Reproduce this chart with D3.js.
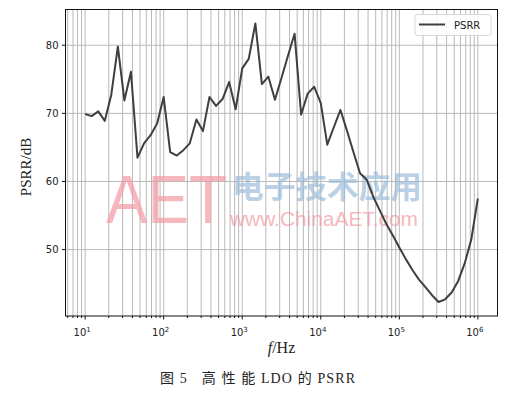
<!DOCTYPE html>
<html lang="zh">
<head>
    <meta charset="UTF-8">
    <title>高性能 LDO 的 PSRR</title>
    <script src="https://d3js.org/d3.v7.min.js"></script>
    <style>
        body {
            margin: 0;
            background: #fff;
        }
        svg text {
            fill: #222;
        }
    </style>
</head>
<body>
    <div id="chart"></div>

    <script>
        // frequency points (Hz), 12 per decade
        const freq = [10, 12.1, 14.7, 17.8, 21.5, 26.1, 31.6, 38.3, 46.4, 56.2, 68.1, 82.5,
            100, 121, 147, 178, 215, 261, 316, 383, 464, 562, 681, 825,
            1000, 1210, 1470, 1780, 2150, 2610, 3160, 3830, 4640, 5620, 6810, 8250,
            10000, 12100, 14700, 17800, 21500, 26100, 31600, 38300, 46400, 56200, 68100, 82500,
            100000, 121000, 147000, 178000, 215000, 261000, 316000, 383000, 464000, 562000, 681000, 825000,
            1000000];
        // PSRR (dB)
        const psrr = [69.9, 69.6, 70.3, 68.9, 72.7, 79.8, 71.9, 76.1, 63.5, 65.6, 66.8, 68.5,
            72.4, 64.3, 63.8, 64.6, 65.6, 69.1, 67.4, 72.4, 71.1, 72.1, 74.6, 70.6,
            76.6, 78.0, 83.2, 74.3, 75.4, 72.0, 75.2, 78.5, 81.7, 69.8, 72.9, 73.9,
            71.5, 65.4, 68.0, 70.5, 67.5, 64.3, 61.2, 60.3, 57.8, 55.8, 53.8, 52.1,
            50.3, 48.6, 47.0, 45.6, 44.5, 43.3, 42.3, 42.7, 43.7, 45.4, 48.0, 51.5,
            57.5];
        const xMajor = [10, 100, 1000, 10000, 100000, 1000000];
        const xLabels = ['1', '2', '3', '4', '5', '6']; // exponents
        const yTicks = [50, 60, 70, 80];
        const seriesName = 'PSRR';

        const W = 514, H = 394;
        const pLeft = 65.5, pRight = 497.5, pTop = 9.5, pBottom = 316;

        const svg = d3.select('#chart').append('svg')
            .attr('width', W)
            .attr('height', H);

        const x = d3.scaleLog()
            .domain([Math.pow(10, 0.75), Math.pow(10, 6.25)])
            .range([pLeft, pRight]);
        const y = d3.scaleLinear()
            .domain([40.25, 85.25])
            .range([pBottom, pTop]);

        // minor + major x grid
        const allTicks = x.ticks().filter(d => d >= x.domain()[0] && d <= x.domain()[1]);
        svg.append('g')
            .selectAll('line')
            .data(allTicks)
            .enter().append('line')
            .attr('x1', d => x(d)).attr('x2', d => x(d))
            .attr('y1', pTop).attr('y2', pBottom)
            .attr('stroke', '#b9b9b9')
            .attr('stroke-width', 1);

        svg.append('g')
            .selectAll('line')
            .data(yTicks)
            .enter().append('line')
            .attr('x1', pLeft).attr('x2', pRight)
            .attr('y1', d => y(d)).attr('y2', d => y(d))
            .attr('stroke', '#b9b9b9')
            .attr('stroke-width', 1);

        // watermark
        const wm = svg.append('g').attr('opacity', 0.7);
        wm.append('text')
            .attr('x', 106).attr('y', 223)
            .attr('textLength', 121).attr('lengthAdjust', 'spacingAndGlyphs')
            .style('font-family', 'Liberation Sans, Arial, sans-serif')
            .style('font-size', '69px')
            .style('fill', '#f39aa3')
            .text('AET');
        wm.append('text')
            .attr('x', 232).attr('y', 198)
            .attr('textLength', 190).attr('lengthAdjust', 'spacingAndGlyphs')
            .style('font-family', 'Noto Sans CJK SC, sans-serif')
            .style('font-size', '31px')
            .style('font-weight', 'bold')
            .style('fill', '#9dbddb')
            .text('电子技术应用');
        wm.append('text')
            .attr('x', 230).attr('y', 226)
            .attr('textLength', 188).attr('lengthAdjust', 'spacingAndGlyphs')
            .style('font-family', 'Liberation Sans, Arial, sans-serif')
            .style('font-size', '20px')
            .style('fill', '#f39aa3')
            .text('www.ChinaAET.com');

        // data line
        const line = d3.line()
            .x((d, i) => x(freq[i]))
            .y(d => y(d));
        svg.append('path')
            .datum(psrr)
            .attr('d', line)
            .attr('fill', 'none')
            .attr('stroke', '#3f3f3f')
            .attr('stroke-width', 2)
            .attr('stroke-linejoin', 'round');

        // frame
        svg.append('rect')
            .attr('x', pLeft).attr('y', pTop)
            .attr('width', pRight - pLeft).attr('height', pBottom - pTop)
            .attr('fill', 'none')
            .attr('stroke', '#111')
            .attr('stroke-width', 1);

        // x ticks
        const xAxis = svg.append('g');
        xAxis.selectAll('line.minor')
            .data(allTicks.filter(d => !xMajor.includes(d)))
            .enter().append('line')
            .attr('class', 'minor')
            .attr('x1', d => x(d)).attr('x2', d => x(d))
            .attr('y1', pBottom).attr('y2', pBottom + 2)
            .attr('stroke', '#111');
        xAxis.selectAll('line.major')
            .data(xMajor)
            .enter().append('line')
            .attr('class', 'major')
            .attr('x1', d => x(d)).attr('x2', d => x(d))
            .attr('y1', pBottom).attr('y2', pBottom + 3.5)
            .attr('stroke', '#111');
        const xt = xAxis.selectAll('text')
            .data(xMajor)
            .enter().append('text')
            .attr('x', d => x(d) - 3)
            .attr('y', 336)
            .attr('text-anchor', 'middle')
            .style('font-family', 'DejaVu Sans, sans-serif')
            .style('font-size', '10px');
        xt.append('tspan').text('10');
        xt.append('tspan')
            .attr('dy', -4.5)
            .style('font-size', '7px')
            .text((d, i) => xLabels[i]);

        // y ticks
        const yAxis = svg.append('g');
        yAxis.selectAll('line')
            .data(yTicks)
            .enter().append('line')
            .attr('x1', pLeft - 3.5).attr('x2', pLeft)
            .attr('y1', d => y(d)).attr('y2', d => y(d))
            .attr('stroke', '#111');
        yAxis.selectAll('text')
            .data(yTicks)
            .enter().append('text')
            .attr('x', pLeft - 7)
            .attr('y', d => y(d) + 3.6)
            .attr('text-anchor', 'end')
            .style('font-family', 'DejaVu Sans, sans-serif')
            .style('font-size', '10px')
            .text(d => d);

        // axis titles
        const xTitle = svg.append('text')
            .attr('x', (pLeft + pRight) / 2)
            .attr('y', 353)
            .attr('text-anchor', 'middle')
            .style('font-family', 'Liberation Serif, Times New Roman, serif')
            .style('font-size', '16px');
        xTitle.append('tspan').style('font-style', 'italic').text('f');
        xTitle.append('tspan').text('/Hz');

        svg.append('text')
            .attr('transform', 'translate(31,167) rotate(-90)')
            .attr('text-anchor', 'middle')
            .style('font-family', 'Liberation Serif, Times New Roman, serif')
            .style('font-size', '15px')
            .text('PSRR/dB');

        // legend
        const lg = svg.append('g');
        lg.append('rect')
            .attr('x', 415).attr('y', 14.5)
            .attr('width', 76).attr('height', 21)
            .attr('rx', 2.5)
            .attr('fill', '#fff')
            .attr('fill-opacity', 0.85)
            .attr('stroke', '#d6d6d6');
        lg.append('line')
            .attr('x1', 419).attr('x2', 445)
            .attr('y1', 24.5).attr('y2', 24.5)
            .attr('stroke', '#3f3f3f')
            .attr('stroke-width', 2);
        lg.append('text')
            .attr('x', 454).attr('y', 28.5)
            .style('font-family', 'DejaVu Sans, sans-serif')
            .style('font-size', '10px')
            .text(seriesName);

        // caption
        svg.append('text')
            .attr('x', 160).attr('y', 383)
            .attr('textLength', 195).attr('lengthAdjust', 'spacing')
            .style('font-family', 'Liberation Serif, Noto Sans CJK SC, serif')
            .style('font-size', '14px')
            .text('图\u00a05\u00a0\u00a0\u00a0高\u00a0性\u00a0能\u00a0LDO\u00a0的\u00a0PSRR');
    </script>
</body>
</html>
